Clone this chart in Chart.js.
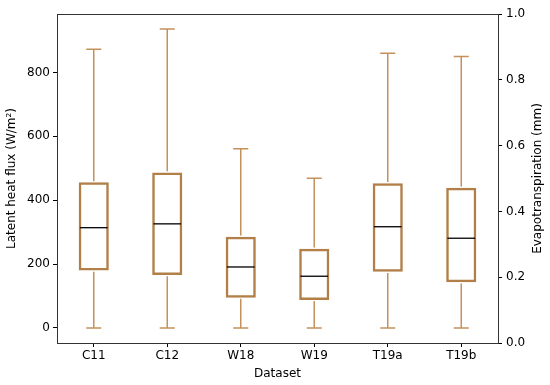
<!DOCTYPE html>
<html>
<head>
<meta charset="utf-8">
<script src="https://cdn.jsdelivr.net/npm/chart.js@4"></script>
<style>
  html, body { margin: 0; padding: 0; background: #ffffff; }
  #wrap { width: 550px; height: 385px; }
</style>
</head>
<body>
<div id="wrap"><canvas id="chart"></canvas></div>
<script>
// Box plot stats (W/m2)
const categories = ['C11', 'C12', 'W18', 'W19', 'T19a', 'T19b'];
const whiskerLow = [0, 0, 0, 0, 0, 0];
const q1 = [180, 166, 95, 88, 176, 143];
const median = [314, 326, 191, 162, 317, 281];
const q3 = [456, 487, 286, 248, 453, 439];
const whiskerHigh = [873, 936, 561, 469, 860, 850];

const leftTicks = [0, 200, 400, 600, 800];
const rightTicks = [0, 0.2, 0.4, 0.6, 0.8, 1.0];

const boxColor = '#b27f48';
const whiskerColor = '#c4915d';
const fontFamily = '"DejaVu Sans", sans-serif';
const rightTitle = 'Evapotranspiration (mm)';

// Whiskers, caps, medians, top frame line and right-hand axis title
const boxPlotPlugin = {
    id: 'boxPlot',
    afterDatasetsDraw(chart) {
        const ctx = chart.ctx;
        const x = chart.scales.x;
        const y = chart.scales.y;
        const meta = chart.getDatasetMeta(0);

        ctx.save();
        categories.forEach((c, i) => {
            const cx = x.getPixelForValue(i);
            const half = meta.data[i].width / 2;
            const capHalf = half / 2;
            const yLow = y.getPixelForValue(whiskerLow[i]);
            const yQ1 = y.getPixelForValue(q1[i]);
            const yQ3 = y.getPixelForValue(q3[i]);
            const yHigh = y.getPixelForValue(whiskerHigh[i]);

            ctx.strokeStyle = whiskerColor;
            ctx.lineWidth = 1.5;
            ctx.beginPath();
            ctx.moveTo(cx, yQ1 + 1.2);
            ctx.lineTo(cx, yLow);
            ctx.moveTo(cx - capHalf, yLow);
            ctx.lineTo(cx + capHalf, yLow);
            ctx.moveTo(cx, yQ3 - 1.2);
            ctx.lineTo(cx, yHigh);
            ctx.moveTo(cx - capHalf, yHigh);
            ctx.lineTo(cx + capHalf, yHigh);
            ctx.stroke();

            const yMed = y.getPixelForValue(median[i]);
            ctx.strokeStyle = '#000000';
            ctx.lineWidth = 1.3;
            ctx.beginPath();
            ctx.moveTo(cx - half + 1.2, yMed);
            ctx.lineTo(cx + half - 1.2, yMed);
            ctx.stroke();
        });

        // top spine
        const area = chart.chartArea;
        ctx.strokeStyle = '#333333';
        ctx.lineWidth = 1;
        ctx.beginPath();
        ctx.moveTo(area.left, area.top + 0.5);
        ctx.lineTo(area.right, area.top + 0.5);
        ctx.stroke();

        // right axis title, reading bottom to top like matplotlib
        ctx.translate(chart.width - 12, (area.top + area.bottom) / 2);
        ctx.rotate(-Math.PI / 2);
        ctx.fillStyle = '#000000';
        ctx.font = '12px ' + fontFamily;
        ctx.textAlign = 'center';
        ctx.textBaseline = 'middle';
        ctx.fillText(rightTitle, 0, 0);
        ctx.restore();
    }
};

new Chart(document.getElementById('chart'), {
    type: 'bar',
    data: {
        labels: categories,
        datasets: [{
            label: 'Latent heat flux',
            data: categories.map((c, i) => [q1[i], q3[i]]),
            backgroundColor: 'rgba(255,255,255,0)',
            borderColor: boxColor,
            borderWidth: 2.5,
            borderSkipped: false,
            barPercentage: 0.41,
            categoryPercentage: 1.0,
            yAxisID: 'y'
        }]
    },
    options: {
        responsive: true,
        maintainAspectRatio: false,
        animation: false,
        layout: { padding: { top: 14, left: 0, right: 0, bottom: 0 } },
        plugins: {
            legend: { display: false },
            tooltip: { enabled: false }
        },
        scales: {
            x: {
                grid: { drawOnChartArea: false, tickLength: 4, color: '#000000', offset: false },
                border: { display: true, color: '#333333', width: 1 },
                ticks: { color: '#000000', font: { family: fontFamily, size: 12 }, padding: 2 },
                title: {
                    display: true,
                    text: 'Dataset',
                    color: '#000000',
                    font: { family: fontFamily, size: 12 },
                    padding: { top: 0, bottom: 4 }
                },
                afterFit(scale) { scale.height = 42; }
            },
            y: {
                position: 'left',
                min: -47,
                max: 983,
                afterBuildTicks(scale) { scale.ticks = leftTicks.map(v => ({ value: v })); },
                grid: { drawOnChartArea: false, tickLength: 4, color: '#000000' },
                border: { display: true, color: '#333333', width: 1 },
                ticks: { color: '#000000', font: { family: fontFamily, size: 12 }, padding: 3 },
                title: {
                    display: true,
                    text: 'Latent heat flux (W/m²)',
                    color: '#000000',
                    font: { family: fontFamily, size: 12 },
                    padding: { top: 5, bottom: 0 }
                },
                afterFit(scale) { scale.width = 57; }
            },
            y2: {
                position: 'right',
                display: true,
                min: 0,
                max: 1,
                afterBuildTicks(scale) { scale.ticks = rightTicks.map(v => ({ value: v })); },
                grid: { drawOnChartArea: false, tickLength: 4, color: '#000000' },
                border: { display: true, color: '#333333', width: 1 },
                ticks: {
                    color: '#000000',
                    font: { family: fontFamily, size: 12 },
                    padding: 4,
                    callback: v => v.toFixed(1)
                },
                title: { display: false },
                afterFit(scale) { scale.width = 52; }
            }
        }
    },
    plugins: [boxPlotPlugin]
});
</script>
</body>
</html>
